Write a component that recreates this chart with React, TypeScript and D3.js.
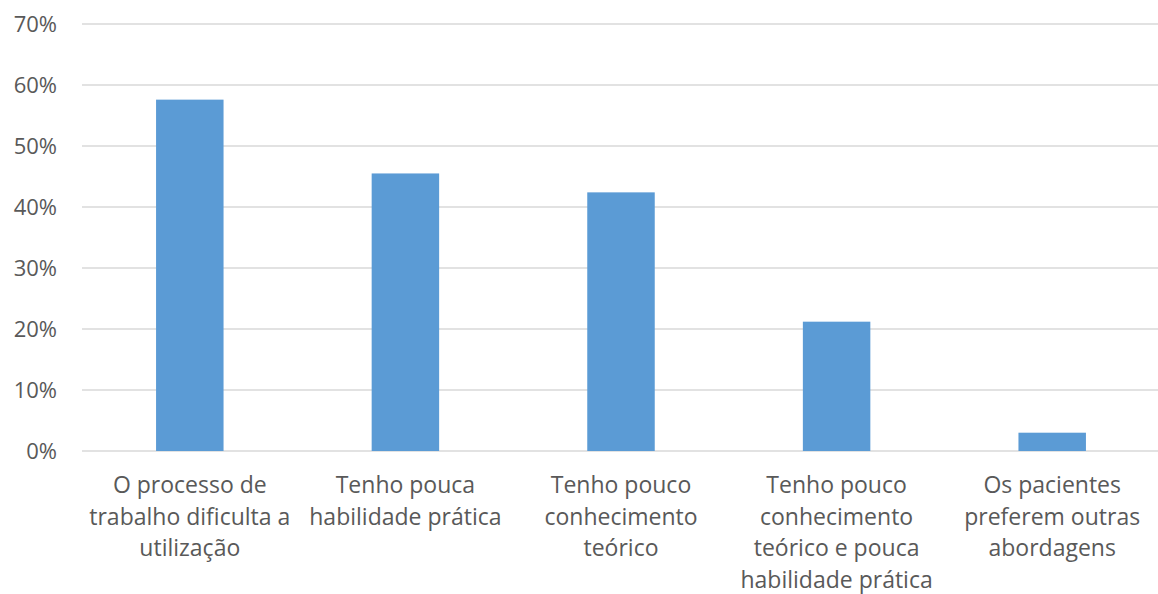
import { useEffect, useRef } from "react"
import * as d3 from "d3"

const categories = [
  ["O processo de", "trabalho dificulta a", "utilização"],
  ["Tenho pouca", "habilidade prática"],
  ["Tenho pouco", "conhecimento", "teórico"],
  ["Tenho pouco", "conhecimento", "teórico e pouca", "habilidade prática"],
  ["Os pacientes", "preferem outras", "abordagens"],
]
const values = [0.576, 0.455, 0.424, 0.212, 0.03]
const yTicks = [0, 0.1, 0.2, 0.3, 0.4, 0.5, 0.6, 0.7]

export default function App() {
  const svgRef = useRef<SVGSVGElement>(null)

  useEffect(() => {
    if (!svgRef.current) return
    const svg = d3.select(svgRef.current)
    svg.selectAll("*").remove()

    const width = 1158
    const margin = { top: 24, right: -2, bottom: 143, left: 82 }
    const height = 594
    const innerBottom = height - margin.bottom

    const x = d3
      .scaleBand<number>()
      .domain(values.map((_, i) => i))
      .range([margin.left, width - margin.right])
      .padding(0)
    const y = d3.scaleLinear().domain([0, 0.7]).range([innerBottom, margin.top])
    const barW = x.bandwidth() * 0.313
    const font = "'Open Sans', sans-serif"

    // gridlines
    svg
      .append("g")
      .selectAll("line")
      .data(yTicks)
      .join("line")
      .attr("x1", margin.left)
      .attr("x2", width)
      .attr("y1", (d) => y(d))
      .attr("y2", (d) => y(d))
      .attr("stroke", "#d9d9d9")
      .attr("stroke-width", 1.5)

    // y labels
    svg
      .append("g")
      .selectAll("text")
      .data(yTicks)
      .join("text")
      .attr("x", 57)
      .attr("y", (d) => y(d))
      .attr("dy", "0.36em")
      .attr("text-anchor", "end")
      .attr("font-family", font)
      .attr("font-size", 22)
      .attr("fill", "#595959")
      .text((d) => d3.format(".0%")(d))

    // bars
    svg
      .append("g")
      .selectAll("rect")
      .data(values)
      .join("rect")
      .attr("x", (_, i) => (x(i) ?? 0) + x.bandwidth() / 2 - barW / 2)
      .attr("y", (d) => y(d))
      .attr("width", barW)
      .attr("height", (d) => y(0) - y(d))
      .attr("fill", "#5b9bd5")

    // category labels
    const labels = svg.append("g")
    categories.forEach((lines, i) => {
      const cx = (x(i) ?? 0) + x.bandwidth() / 2
      const t = labels
        .append("text")
        .attr("text-anchor", "middle")
        .attr("font-family", font)
        .attr("font-size", 23)
        .attr("fill", "#595959")
      lines.forEach((line, j) => {
        t.append("tspan")
          .attr("x", cx)
          .attr("y", 493 + j * 31.7)
          .text(line)
      })
    })
  }, [])

  return (
    <svg
      ref={svgRef}
      width={1158}
      height={594}
      style={{ position: "absolute", left: 0, top: 0, background: "#fff" }}
    />
  )
}
